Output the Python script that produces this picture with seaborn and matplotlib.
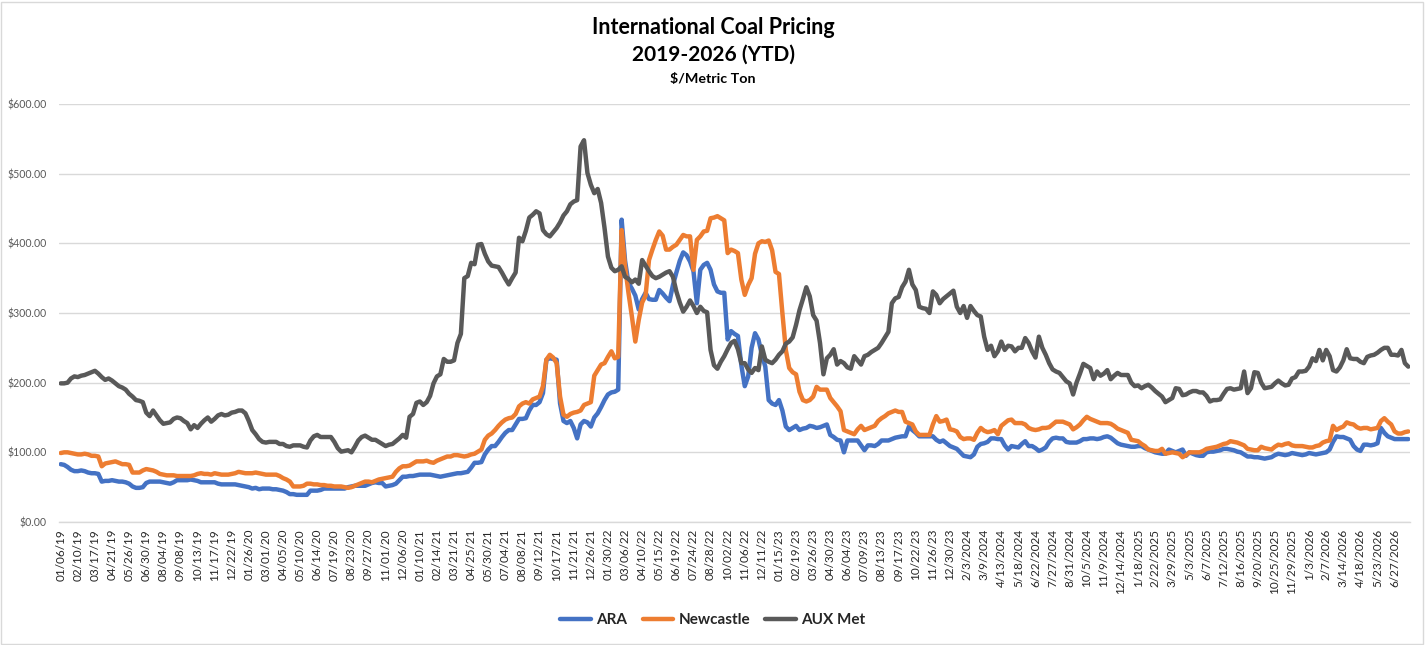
import numpy as np
import pandas as pd
import matplotlib
matplotlib.use("Agg")
import matplotlib.pyplot as plt
from matplotlib.ticker import MultipleLocator, FuncFormatter, FixedLocator
from matplotlib.patches import Rectangle
import seaborn as sns

# --- DATA (weekly prices, $/metric ton) ---
SERIES = ["ARA", "Newcastle", "AUX Met"]
COLORS = {"ARA": "#4472C4", "Newcastle": "#ED7D31", "AUX Met": "#595959"}

ara = [
    83, 82, 79, 75, 73, 73, 74, 73, 71, 70,
    70, 69, 58, 59, 59, 60, 59, 58, 58, 57,
    55, 51, 49, 49, 50, 56, 58, 58, 58, 58,
    57, 56, 55, 57, 60, 60, 60, 60, 61, 60,
    59, 57, 57, 57, 57, 57, 55, 54, 54, 54,
    54, 54, 53, 52, 51, 50, 48, 49, 47, 48,
    48, 48, 47, 47, 46, 45, 43, 40, 40, 39,
    39, 39, 39, 45, 45, 45, 46, 48, 48, 48,
    48, 48, 48, 48, 50, 51, 52, 52, 52, 52,
    54, 56, 57, 56, 56, 51, 52, 53, 55, 60,
    65, 65, 66, 66, 67, 68, 68, 68, 68, 67,
    66, 65, 66, 67, 68, 69, 70, 70, 71, 72,
    78, 85, 85, 86, 97, 104, 109, 109, 115, 122,
    128, 132, 132, 140, 148, 148, 149, 160, 168, 168,
    172, 185, 233, 235, 234, 233, 170, 145, 142, 145,
    135, 120, 140, 145, 143, 137, 150, 156, 165, 175,
    183, 186, 187, 190, 434, 375, 343, 335, 325, 305,
    320, 329, 320, 319, 319, 333, 328, 322, 317, 340,
    358, 375, 387, 383, 374, 360, 314, 362, 369, 372,
    362, 341, 331, 329, 329, 262, 274, 270, 267, 225,
    195, 209, 250, 271, 262, 240, 223, 175, 170, 168,
    175, 160, 137, 132, 135, 138, 132, 134, 135, 138,
    137, 135, 136, 138, 140, 125, 122, 118, 117, 100,
    117, 117, 117, 117, 110, 103, 110, 110, 109, 112,
    117, 117, 117, 119, 121, 122, 123, 123, 137, 132,
    128, 123, 123, 123, 123, 123, 118, 115, 117, 113,
    109, 107, 105, 100, 95, 94, 93, 97, 108, 112,
    113, 115, 120, 120, 119, 119, 110, 104, 109, 108,
    107, 112, 116, 109, 109, 106, 102, 104, 107, 115,
    120, 121, 120, 120, 115, 114, 114, 114, 116, 119,
    119, 120, 120, 119, 120, 122, 123, 121, 117, 113,
    111, 110, 109, 108, 108, 109, 109, 106, 104, 102,
    100, 99, 98, 98, 104, 102, 100, 102, 104, 95,
    100, 98, 96, 95, 95, 100, 101, 101, 102, 103,
    105, 105, 104, 103, 101, 100, 97, 94, 94, 93,
    93, 92, 91, 92, 93, 96, 98, 97, 96, 97,
    99, 98, 97, 96, 97, 99, 98, 97, 98, 99,
    100, 104, 115, 123, 122, 122, 120, 118, 109, 104,
    102, 111, 111, 110, 111, 113, 135, 128, 123, 121,
    119, 119, 119, 119, 119,
]

newcastle = [
    99, 100, 100, 99, 98, 97, 97, 98, 97, 95,
    95, 94, 80, 84, 85, 86, 87, 85, 83, 83,
    82, 71, 71, 71, 74, 76, 75, 74, 72, 69,
    68, 67, 67, 67, 66, 66, 66, 66, 66, 67,
    69, 70, 69, 69, 68, 70, 69, 68, 68, 68,
    69, 70, 72, 71, 70, 70, 70, 71, 70, 69,
    68, 68, 68, 68, 66, 63, 61, 58, 51, 51,
    51, 52, 55, 55, 54, 54, 53, 53, 52, 52,
    51, 51, 51, 50, 49, 50, 52, 54, 56, 58,
    58, 57, 59, 61, 62, 63, 64, 65, 72, 77,
    80, 80, 81, 84, 87, 87, 87, 88, 86, 85,
    88, 90, 92, 94, 94, 96, 96, 95, 94, 95,
    97, 98, 101, 104, 118, 124, 127, 132, 138, 143,
    147, 149, 150, 155, 166, 170, 172, 170, 176, 178,
    180, 195, 233, 240, 236, 228, 180, 154, 151, 155,
    157, 158, 160, 168, 170, 172, 210, 218, 226, 228,
    237, 245, 235, 237, 419, 367, 329, 295, 259, 290,
    315, 325, 376, 391, 405, 417, 411, 391, 391, 395,
    398, 405, 412, 410, 410, 362, 405, 410, 417, 418,
    436, 437, 439, 436, 433, 386, 391, 389, 386, 348,
    326, 340, 350, 385, 400, 403, 402, 404, 390, 359,
    356, 300, 247, 221, 215, 212, 187, 175, 173, 175,
    180, 194, 190, 190, 190, 178, 172, 166, 159, 132,
    130, 128, 126, 133, 138, 132, 134, 136, 138, 145,
    149, 152, 156, 158, 160, 158, 158, 144, 142, 140,
    130, 125, 125, 125, 125, 140, 152, 144, 145, 147,
    133, 132, 130, 122, 119, 120, 120, 118, 128, 135,
    131, 129, 130, 132, 126, 138, 142, 146, 147, 142,
    142, 142, 140, 135, 133, 132, 133, 135, 135, 136,
    140, 144, 144, 144, 142, 140, 133, 136, 140, 146,
    151, 148, 146, 144, 142, 142, 142, 141, 138, 134,
    132, 130, 128, 118, 117, 116, 112, 109, 104, 103,
    102, 102, 105, 98, 99, 100, 99, 98, 93, 96,
    100, 100, 100, 100, 102, 105, 106, 107, 108, 110,
    112, 113, 116, 115, 114, 112, 110, 105, 104, 103,
    103, 108, 106, 105, 104, 108, 111, 110, 112, 113,
    110, 109, 109, 109, 108, 107, 107, 109, 110, 114,
    116, 117, 138, 132, 135, 137, 143, 141, 140, 136,
    134, 135, 135, 133, 134, 135, 145, 149, 144, 140,
    130, 127, 127, 129, 130,
]

aux_met = [
    199, 199, 200, 206, 209, 208, 210, 211, 213, 215,
    217, 213, 208, 204, 206, 203, 199, 195, 193, 190,
    184, 180, 175, 174, 172, 157, 152, 160, 153, 146,
    141, 142, 143, 148, 150, 149, 145, 142, 133, 139,
    135, 141, 146, 150, 144, 148, 153, 155, 153, 154,
    157, 158, 160, 160, 156, 145, 132, 126, 119, 115,
    114, 115, 115, 115, 112, 112, 109, 108, 110, 110,
    110, 108, 107, 117, 123, 125, 122, 122, 122, 122,
    115, 106, 101, 102, 103, 100, 108, 117, 122, 124,
    121, 118, 118, 115, 112, 109, 111, 112, 116, 120,
    125, 121, 151, 155, 171, 173, 168, 172, 181, 199,
    209, 212, 234, 230, 230, 232, 257, 270, 350, 353,
    372, 370, 398, 399, 385, 374, 368, 367, 366, 358,
    349, 341, 350, 358, 408, 403, 418, 437, 441, 446,
    443, 419, 413, 410, 416, 422, 430, 440, 446, 456,
    460, 462, 539, 548, 501, 484, 472, 478, 458, 422,
    381, 365, 360, 362, 367, 352, 349, 344, 348, 342,
    376, 368, 360, 353, 350, 352, 355, 358, 360, 352,
    331, 315, 302, 309, 318, 310, 300, 309, 303, 301,
    247, 225, 220, 230, 238, 248, 257, 260, 248, 228,
    228, 219, 214, 221, 218, 252, 233, 230, 228, 233,
    240, 245, 256, 259, 265, 283, 304, 320, 337, 324,
    297, 289, 257, 212, 235, 240, 248, 226, 231, 228,
    222, 220, 238, 232, 226, 238, 240, 244, 247, 250,
    257, 265, 273, 314, 321, 323, 337, 345, 362, 341,
    333, 309, 307, 306, 300, 331, 326, 314, 320, 324,
    328, 332, 309, 300, 310, 293, 310, 303, 297, 295,
    266, 247, 253, 238, 245, 259, 247, 253, 252, 245,
    250, 250, 264, 257, 245, 236, 266, 250, 240, 228,
    219, 216, 214, 208, 202, 199, 183, 200, 213, 227,
    224, 221, 205, 216, 210, 213, 218, 205, 210, 214,
    211, 211, 211, 200, 195, 196, 192, 195, 197, 193,
    188, 184, 180, 172, 175, 178, 192, 191, 182, 183,
    186, 188, 188, 186, 186, 181, 173, 175, 175, 176,
    184, 191, 192, 190, 191, 192, 216, 185, 192, 215,
    214, 200, 192, 193, 194, 199, 203, 199, 196, 197,
    206, 208, 216, 216, 217, 223, 235, 231, 247, 232,
    247, 238, 218, 216, 222, 232, 248, 235, 234, 234,
    230, 228, 237, 239, 240, 243, 247, 250, 250, 240,
    240, 239, 247, 228, 223,
]

# category labels shown every 5th week
tick_labels = [
    "01/06/19", "02/10/19", "03/17/19", "04/21/19", "05/26/19", "06/30/19",
    "08/04/19", "09/08/19", "10/13/19", "11/17/19", "12/22/19", "01/26/20",
    "03/01/20", "04/05/20", "05/10/20", "06/14/20", "07/19/20", "08/23/20",
    "09/27/20", "11/01/20", "12/06/20", "01/10/21", "02/14/21", "03/21/21",
    "04/25/21", "05/30/21", "07/04/21", "08/08/21", "09/12/21", "10/17/21",
    "11/21/21", "12/26/21", "01/30/22", "03/06/22", "04/10/22", "05/15/22",
    "06/19/22", "07/24/22", "08/28/22", "10/02/22", "11/06/22", "12/11/22",
    "01/15/23", "02/19/23", "03/26/23", "04/30/23", "06/04/23", "07/09/23",
    "08/13/23", "09/17/23", "10/22/23", "11/26/23", "12/30/23", "2/3/2024",
    "3/9/2024", "4/13/2024", "5/18/2024", "6/22/2024", "7/27/2024", "8/31/2024",
    "10/5/2024", "11/9/2024", "12/14/2024", "1/18/2025", "2/22/2025", "3/29/2025",
    "5/3/2025", "6/7/2025", "7/12/2025", "8/16/2025", "9/20/2025", "10/25/2025",
    "11/29/2025", "1/3/2026", "2/7/2026", "3/14/2026", "4/18/2026", "5/23/2026",
    "6/27/2026",
]
LABEL_STEP = 5

assert len(ara) == len(newcastle) == len(aux_met), (len(ara), len(newcastle), len(aux_met))

n = len(ara)
weeks = np.arange(n)
df = pd.concat([
    pd.DataFrame({"week": weeks, "price": vals, "series": name})
    for name, vals in zip(SERIES, [ara, newcastle, aux_met])
])

# --- PLOT ---
sns.set_theme(style="white")
plt.rcParams["font.family"] = ["Lato", "DejaVu Sans"]

W, H = 1426, 645
fig = plt.figure(figsize=(W / 100, H / 100), dpi=100)
ax = fig.add_axes([59 / W, 1 - 522 / H, (1410 - 59) / W, (522 - 104) / H])

sns.lineplot(data=df, x="week", y="price", hue="series", hue_order=SERIES,
             palette=COLORS, linewidth=3.2, errorbar=None, ax=ax)
for line in ax.lines:
    line.set_solid_joinstyle("round")

ax.set_xlim(-0.5, n - 0.5)
ax.set_ylim(0, 600)
ax.set_xlabel("")
ax.set_ylabel("")

ax.yaxis.set_major_locator(MultipleLocator(100))
ax.yaxis.set_major_formatter(FuncFormatter(lambda v, p: f"${v:,.2f}"))
ax.grid(axis="y", color="#D9D9D9", linewidth=1)
ax.grid(axis="x", visible=False)
ax.set_axisbelow(True)

ax.set_xticks(np.arange(0, len(tick_labels) * LABEL_STEP, LABEL_STEP))
ax.set_xticklabels(tick_labels, rotation=90)
ax.xaxis.set_minor_locator(FixedLocator(np.arange(-0.5, n, 5 / 3)))
ax.tick_params(axis="x", which="major", length=0, pad=5, labelsize=8.5, labelcolor="#262626")
ax.tick_params(axis="x", which="minor", length=5, width=0.8, color="#D9D9D9", direction="out")
ax.tick_params(axis="y", length=0, pad=9, labelsize=7.6, labelcolor="#595959")

for side in ["top", "right", "left"]:
    ax.spines[side].set_visible(False)
ax.spines["bottom"].set_color("#D9D9D9")
ax.spines["bottom"].set_linewidth(1)

# titles
fig.text(0.5, 1 - 27 / H, "International Coal Pricing", ha="center", va="center",
         fontsize=15.5, fontweight="bold", color="black")
fig.text(0.5, 1 - 55 / H, "2019-2026 (YTD)", ha="center", va="center",
         fontsize=15, fontweight="bold", color="black")
fig.text(0.5, 1 - 79 / H, "$/Metric Ton", ha="center", va="center",
         fontsize=10.3, fontweight="bold", color="black")

# legend at the bottom
handles, labels = ax.get_legend_handles_labels()
ax.get_legend().remove()
fig.legend(handles, labels, loc="center", bbox_to_anchor=(0.5, 1 - 620 / H), ncol=3,
           frameon=False, prop={"weight": "bold", "size": 11}, labelcolor="#262626",
           handlelength=2.0, handletextpad=0.35, columnspacing=1.0)

# chart area border
fig.add_artist(Rectangle((1 / W, 1 / H), 1422 / W, 642 / H, transform=fig.transFigure,
                         fill=False, edgecolor="#D9D9D9", linewidth=1))

fig.savefig("out.png", dpi=100)
